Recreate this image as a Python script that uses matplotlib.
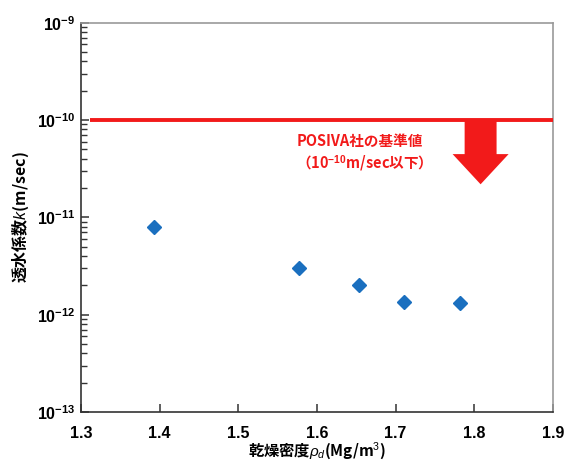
import matplotlib
matplotlib.use("Agg")
import matplotlib.pyplot as plt
from matplotlib.patches import Polygon
from matplotlib.ticker import FixedLocator, NullFormatter

plt.rcParams['font.family'] = ['Noto Sans CJK JP', 'DejaVu Sans']
plt.rcParams['mathtext.fontset'] = 'custom'
plt.rcParams['mathtext.rm'] = 'Liberation Sans'
plt.rcParams['mathtext.it'] = 'Liberation Sans:italic'
plt.rcParams['mathtext.bf'] = 'Liberation Sans:bold'

# data
density = [1.393, 1.577, 1.653, 1.710, 1.782]
permeability = [8.0e-12, 3.0e-12, 2.0e-12, 1.35e-12, 1.33e-12]
criterion = 1e-10
x_ticks = [1.3, 1.4, 1.5, 1.6, 1.7, 1.8, 1.9]
x_tick_labels = ['1.3', '1.4', '1.5', '1.6', '1.7', '1.8', '1.9']
y_ticks = [1e-13, 1e-12, 1e-11, 1e-10, 1e-9]
y_tick_labels = [r'$\mathbf{10^{-13}}$', r'$\mathbf{10^{-12}}$',
                 r'$\mathbf{10^{-11}}$', r'$\mathbf{10^{-10}}$',
                 r'$\mathbf{10^{-9}}$']
y_minor_ticks = [m * 10.0 ** e for e in range(-13, -9) for m in range(2, 10)]

RED = '#f21a1a'
BLUE = '#1a6fbf'

fig = plt.figure(figsize=(5.66, 4.63), dpi=100)
ax = fig.add_axes([0.143, 0.110, 0.834, 0.841])
ax.set_yscale('log')
ax.set_xlim(1.3, 1.9)
ax.set_ylim(1e-13, 1e-9)

# criterion line
ax.plot([1.312, 1.9], [criterion, criterion], color=RED, lw=2.8, solid_capstyle='butt', zorder=3)

# arrow (geometry in data coords, log y)
cx = 1.808
sw, hw = 0.0203, 0.0356
yb = 10 ** (-10.35)
yt = 10 ** (-10.66)
verts = [(cx - sw, criterion), (cx + sw, criterion), (cx + sw, yb), (cx + hw, yb),
         (cx, yt), (cx - hw, yb), (cx - sw, yb)]
ax.add_patch(Polygon(verts, closed=True, facecolor=RED, edgecolor='none', zorder=3))

ax.text(1.655, 10 ** (-10.215), 'POSIVA社の基準値', color=RED, fontsize=10.5,
        fontweight='bold', ha='center', va='center')
ax.text(1.655, 10 ** (-10.45), r'（10$^{\mathbf{-10}}$m/sec以下）', color=RED, fontsize=10.5,
        fontweight='bold', ha='center', va='center')

# data points
ax.plot(density, permeability, linestyle='none', marker='D', markersize=7.5,
        color=BLUE, markeredgecolor=BLUE, zorder=4)

# ticks
ax.xaxis.set_major_locator(FixedLocator(x_ticks))
ax.set_xticklabels(x_tick_labels)
ax.yaxis.set_major_locator(FixedLocator(y_ticks))
ax.set_yticklabels(y_tick_labels)
ax.yaxis.set_minor_locator(FixedLocator(y_minor_ticks))
ax.yaxis.set_minor_formatter(NullFormatter())
ax.tick_params(axis='both', which='both', direction='in', top=False, right=False,
               color='#333333')
ax.tick_params(axis='x', which='major', length=6, width=1.1, pad=10)
ax.tick_params(axis='y', which='major', length=6, width=1.1, pad=4)
ax.tick_params(axis='y', which='minor', length=4, width=1.0)
ax.tick_params(axis='x', which='minor', length=0)
for lab in ax.get_xticklabels() + ax.get_yticklabels():
    lab.set_fontsize(11.5)
    lab.set_fontweight('bold')
    lab.set_family(['Liberation Sans', 'DejaVu Sans'])

for s in ['left', 'bottom']:
    ax.spines[s].set_color('#333333')
    ax.spines[s].set_linewidth(1.2)
for s in ['top', 'right']:
    ax.spines[s].set_color('#999999')
    ax.spines[s].set_linewidth(1.2)

ax.set_xlabel(r'乾燥密度$\rho_d$(Mg/m$^3$)', fontsize=11, fontweight='bold', labelpad=0)
ax.set_ylabel(r'透水係数$k$(m/sec)', fontsize=11.5, fontweight='bold', labelpad=4)

fig.savefig('out.png', dpi=100)
